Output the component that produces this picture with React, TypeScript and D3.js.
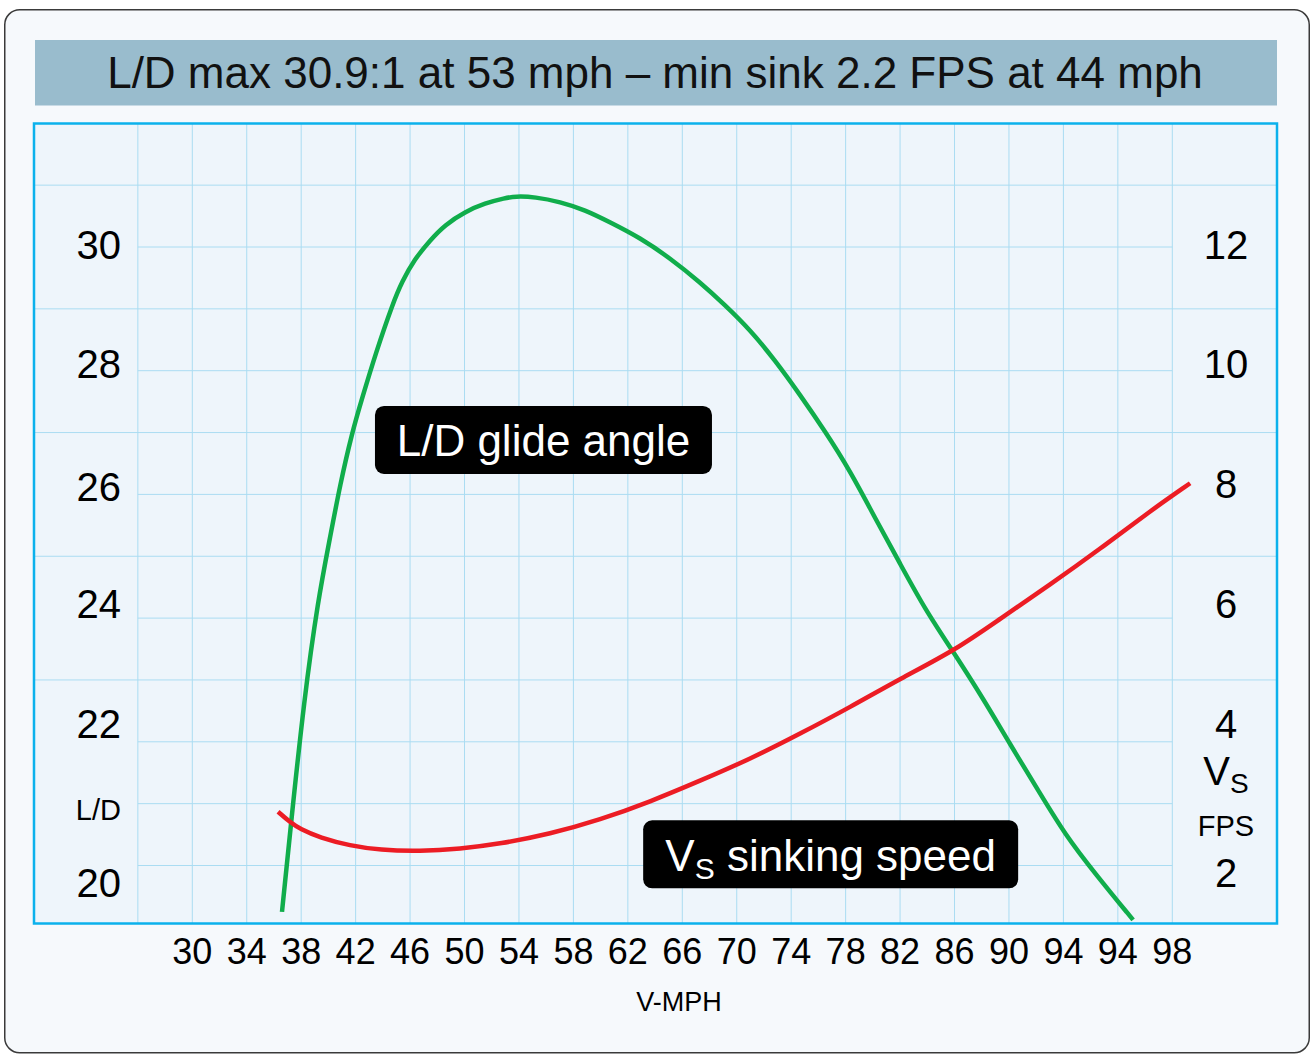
import React from "react";
import * as d3 from "d3";

// ---------- data ----------
const titleText = "L/D max 30.9:1 at 53 mph \u2013 min sink 2.2 FPS at 44 mph";

const xTickLabels = ["30", "34", "38", "42", "46", "50", "54", "58", "62", "66", "70", "74", "78", "82", "86", "90", "94", "94", "98"];
const xTickMph = [30, 34, 38, 42, 46, 50, 54, 58, 62, 66, 70, 74, 78, 82, 86, 90, 94, 98, 102];

// left labels (text, L/D value where printed)
const leftLabels = ["30", "28", "26", "24", "22", "L/D", "20"];
const leftLabelAt = [30.03, 28.12, 26.12, 24.24, 22.3, 20.91, 19.73];
// right labels (text, FPS value where printed)
const rightLabels = ["12", "10", "8", "6", "4", "Vs", "FPS", "2"];
const rightLabelAt = [12.03, 10.12, 8.18, 6.24, 4.3, 3.53, 2.64, 1.88];

// grid
const gridMph = d3.range(26, 103, 4);
const gridLDFull = [31, 29, 27, 25, 23];
const gridLDInner = [30, 28, 26, 24, 22, 21, 20];

// L/D glide angle curve (mph, L/D)
const ldMph = [36.59, 37.26, 38.21, 39.24, 40.12, 40.85, 41.74, 42.47, 43.5, 44.75, 45.41, 46.29, 47.47, 48.57, 50.04, 51.51, 52.98, 53.71, 55.18, 57.02, 58.85, 60.69, 62.89, 65.1, 67.3, 69.14, 70.98, 72.81, 74.65, 76.49, 78.33, 80.16, 82.0, 83.84, 85.89, 88.1, 90.08, 92.14, 94.12, 96.33, 99.12];
const ldValues = [19.25, 20.7, 22.68, 24.3, 25.3, 26.15, 27.0, 27.55, 28.3, 29.1, 29.44, 29.79, 30.11, 30.36, 30.57, 30.71, 30.79, 30.82, 30.81, 30.73, 30.6, 30.4, 30.15, 29.82, 29.43, 29.06, 28.66, 28.17, 27.61, 27.02, 26.38, 25.62, 24.88, 24.14, 23.46, 22.7, 21.96, 21.22, 20.5, 19.87, 19.12];

// Vs sinking speed curve (mph, FPS)
const vsMph = [36.3, 37.18, 37.91, 39.38, 41.59, 43.79, 46.73, 49.67, 52.61, 56.28, 59.96, 63.63, 67.3, 70.98, 74.65, 78.33, 82.0, 86.04, 89.35, 93.02, 96.7, 100.37, 103.31];
const vsFps = [2.87, 2.7, 2.59, 2.45, 2.32, 2.25, 2.23, 2.27, 2.35, 2.51, 2.74, 3.03, 3.37, 3.72, 4.13, 4.56, 5.02, 5.48, 5.99, 6.54, 7.12, 7.73, 8.18];

// annotation boxes (center in mph / L/D units)
const ldBox = { text: "L/D glide angle", mph: 55.8, ld: 26.88 };
const vsBox = { main: "V", sub: "S", rest: " sinking speed", mph: 76.9, ld: 20.18 };

// ---------- layout ----------
const W = 1313;
const H = 1056;
const plot = { x0: 34, x1: 1277, y0: 123.5, y1: 923.5 };
const FONT = "'Liberation Sans', Arial, Helvetica, sans-serif";

const x = d3.scaleLinear().domain([30, 102]).range([192.3, 1172.3]);
const yLD = d3.scaleLinear().domain([20, 30]).range([865.5, 247]);
const yFPS = d3.scaleLinear().domain([2, 12]).range([865.5, 247]);

const innerX0 = x(26);
const innerX1 = x(102);

const lineGen = d3
  .line<[number, number]>()
  .x((d) => d[0])
  .y((d) => d[1])
  .curve(d3.curveBasis);

export default function App() {
  const ldPath = lineGen(ldMph.map((m, i) => [x(m), yLD(ldValues[i])] as [number, number]));
  const vsPath = lineGen(vsMph.map((m, i) => [x(m), yFPS(vsFps[i])] as [number, number]));

  const tickFs = 40;
  const ldBoxW = 337, ldBoxH = 68;
  const vsBoxW = 375, vsBoxH = 68;
  const ldCx = x(ldBox.mph), ldCy = yLD(ldBox.ld);
  const vsCx = x(vsBox.mph), vsCy = yLD(vsBox.ld);

  return (
    <svg
      width={W}
      height={H}
      style={{ position: "absolute", left: 0, top: 0, background: "#ffffff" }}
      fontFamily={FONT}
    >
      {/* card */}
      <rect x={4.75} y={9.75} width={1304.5} height={1043} rx={15} fill="#f6f9fc" stroke="#3a3a3a" strokeWidth={1.5} />
      {/* title bar */}
      <rect x={35} y={40} width={1242} height={65.5} fill="#99bccd" />
      <text x={655} y={88} textAnchor="middle" fontSize={44} fill="#111">
        {titleText}
      </text>

      {/* plot background */}
      <rect x={plot.x0} y={plot.y0} width={plot.x1 - plot.x0} height={plot.y1 - plot.y0} fill="#eef5fb" />

      {/* grid */}
      <g stroke="#aadcf2" strokeWidth={1}>
        {gridMph.map((m) => (
          <line key={"v" + m} x1={x(m)} x2={x(m)} y1={plot.y0} y2={plot.y1} />
        ))}
        {gridLDFull.map((v) => (
          <line key={"hf" + v} x1={plot.x0} x2={plot.x1} y1={yLD(v)} y2={yLD(v)} />
        ))}
        {gridLDInner.map((v) => (
          <line key={"hi" + v} x1={innerX0} x2={innerX1} y1={yLD(v)} y2={yLD(v)} />
        ))}
      </g>

      {/* curves */}
      <path d={ldPath || ""} fill="none" stroke="#10ad4b" strokeWidth={4.5} strokeLinecap="butt" />
      <path d={vsPath || ""} fill="none" stroke="#ec1c24" strokeWidth={4.5} strokeLinecap="butt" />

      {/* plot border */}
      <rect x={plot.x0} y={plot.y0} width={plot.x1 - plot.x0} height={plot.y1 - plot.y0} fill="none" stroke="#0bb1ec" strokeWidth={2.5} />

      {/* left labels */}
      {leftLabels.map((t, i) => {
        const fs = t === "L/D" ? 29 : tickFs;
        return (
          <text key={"l" + i} x={121} y={yLD(leftLabelAt[i]) + fs * 0.358} textAnchor="end" fontSize={fs} fill="#000">
            {t}
          </text>
        );
      })}

      {/* right labels */}
      {rightLabels.map((t, i) => {
        const cy = yFPS(rightLabelAt[i]);
        if (t === "Vs") {
          return (
            <text key={"r" + i} x={1226} y={cy + tickFs * 0.358} textAnchor="middle" fontSize={tickFs} fill="#000">
              V<tspan fontSize={28} dy={8}>S</tspan>
            </text>
          );
        }
        const fs = t === "FPS" ? 29 : tickFs;
        return (
          <text key={"r" + i} x={1226} y={cy + fs * 0.358} textAnchor="middle" fontSize={fs} fill="#000">
            {t}
          </text>
        );
      })}

      {/* x tick labels */}
      {xTickLabels.map((t, i) => (
        <text key={"x" + i} x={x(xTickMph[i])} y={964} textAnchor="middle" fontSize={36} fill="#000">
          {t}
        </text>
      ))}
      <text x={679} y={1011} textAnchor="middle" fontSize={27} fill="#000">
        V-MPH
      </text>

      {/* annotation boxes */}
      <rect x={ldCx - ldBoxW / 2} y={ldCy - ldBoxH / 2} width={ldBoxW} height={ldBoxH} rx={9} fill="#000" />
      <text x={ldCx} y={ldCy + 16} textAnchor="middle" fontSize={44} fill="#fff">
        {ldBox.text}
      </text>
      <rect x={vsCx - vsBoxW / 2} y={vsCy - vsBoxH / 2} width={vsBoxW} height={vsBoxH} rx={9} fill="#000" />
      <text x={vsCx} y={vsCy + 17} textAnchor="middle" fontSize={44} fill="#fff">
        {vsBox.main}
        <tspan fontSize={30} dy={8}>{vsBox.sub}</tspan>
        <tspan dy={-8}>{vsBox.rest}</tspan>
      </text>
    </svg>
  );
}
